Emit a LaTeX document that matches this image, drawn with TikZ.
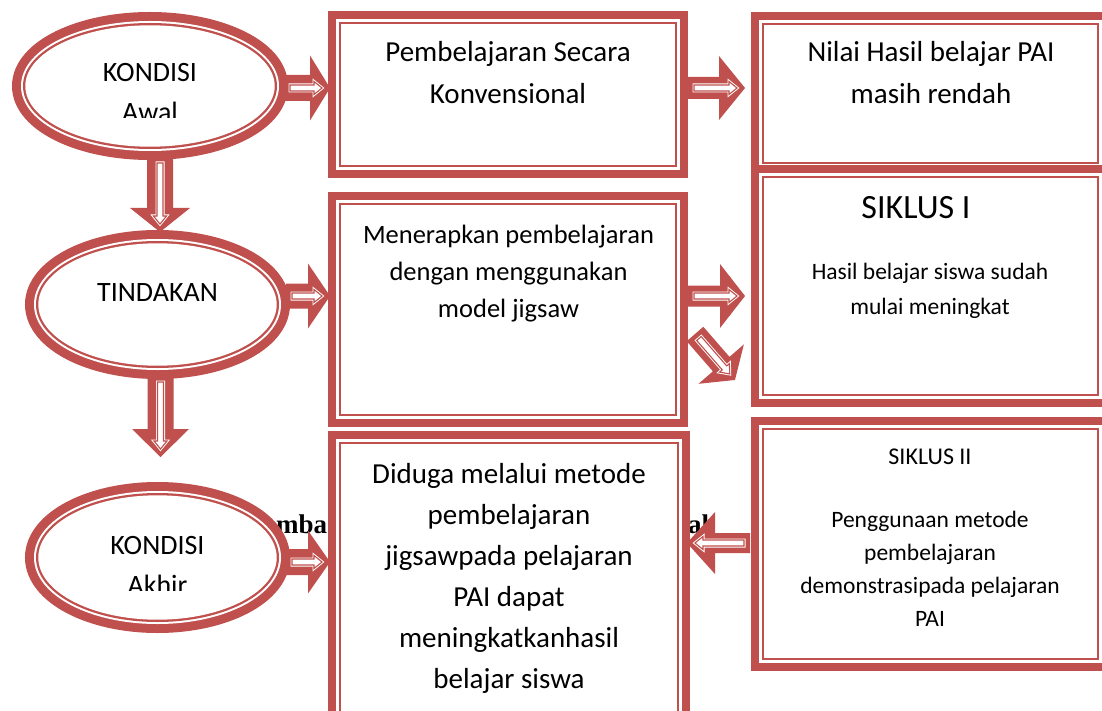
\documentclass[tikz,border=0pt]{standalone}
\usepackage{fontspec}
\setmainfont{Carlito}
\newfontfamily\capfont{Liberation Serif}
\usetikzlibrary{calc,positioning,shapes.geometric}
\definecolor{tred}{RGB}{192,80,77}

\tikzset{
  ttbox/.style={rectangle, preaction={draw=tred, line width=26.8pt},
    preaction={draw=white, line width=10pt},
    preaction={draw=tred, line width=4.8pt},
    fill=white, inner sep=0pt, outer sep=13.4pt},
  ttell/.style={ellipse, preaction={draw=tred, line width=26.6pt},
    preaction={draw=white, line width=8.6pt},
    preaction={draw=tred, line width=4.6pt},
    fill=white, inner sep=0pt, outer sep=13.3pt},
  arrcore/.style={preaction={draw=white, line width=3pt}, draw=tred,
    line width=1.1pt, fill=white},
  lbl/.style={align=center, inner sep=0pt, anchor=base},
}
\newcommand{\fsz}[2]{\fontsize{#1}{#2}\selectfont}
% block arrow: from, to, shaft half width, head half width, head length
\newcommand{\blockarr}[5]{%
  \path #1 coordinate (bas) #2 coordinate (bae);
  \pgfpointdiff{\pgfpointanchor{bas}{center}}{\pgfpointanchor{bae}{center}}%
  \pgfgetlastxy{\arrdx}{\arrdy}%
  \pgfmathsetmacro{\arrang}{atan2(\arrdy,\arrdx)}%
  \pgfmathsetmacro{\arrlen}{veclen(\arrdx,\arrdy)}%
  \begin{scope}[shift={(bas)}, rotate=\arrang, x=1pt, y=1pt]
    \fill[tred] (0,-#3) -- (\arrlen-#5,-#3) -- (\arrlen-#5,-#4) -- (\arrlen,0)
      -- (\arrlen-#5,#4) -- (\arrlen-#5,#3) -- (0,#3) -- cycle;
    \draw[arrcore] (6,-3) -- (\arrlen-16,-3) -- (\arrlen-16,-6.5) -- (\arrlen-8,0)
      -- (\arrlen-16,6.5) -- (\arrlen-16,3) -- (6,3) -- cycle;
  \end{scope}}

\begin{document}
\begin{tikzpicture}[x=1pt, y=-1pt]
  \useasboundingbox (0,0) rectangle (1102,711);
  \fill[white] (0,0) rectangle (1102,711);
  \clip (0,0) rectangle (1102,711);

  % caption fragments behind the shapes
  \node[font=\capfont\bfseries\fsz{27}{30}, inner sep=0pt, anchor=base west] (capa) at (276,533) {mba};
  \node[font=\capfont\bfseries\fsz{27}{30}, inner sep=0pt, anchor=base west] (capb) at (688,533) {al};

  % ellipses
  \node[ttell, minimum width=249.4, minimum height=121.4] (kawal) at (150,86) {};
  \node[ttell, minimum width=238.4, minimum height=122.4] (tindakan) at (157.5,304.5) {};
  \node[ttell, minimum width=238.4, minimum height=124.4] (kakhir) at (157.5,557.5) {};

  % boxes
  \node[ttbox, minimum width=333.2, minimum height=140.2] (konv) at (508,94.5) {};
  \node[ttbox, minimum width=333.2, minimum height=208.2] (jigsaw) at (508,309.5) {};
  \node[ttbox, minimum width=335.2, minimum height=282.2] (duga) at (509,585.5) {};
  \node[ttbox, minimum width=332.2, minimum height=136.2] (rendah) at (930.5,93.5) {};
  \node[ttbox, minimum width=332.2, minimum height=215.2] (siklusa) at (930.5,286) {};
  \node[ttbox, minimum width=332.2, minimum height=227.2] (siklusb) at (930.5,544) {};

  % texts (base = last line)
  \begin{scope}
    \clip (20,20) rectangle (280,118);
    \node[lbl, font=\fsz{28}{40}] (tawal) at (150,122) {KONDISI\\Awal};
  \end{scope}
  \node[lbl, font=\fsz{28}{40}] (ttind) at (157.5,301) {TINDAKAN};
  \begin{scope}
    \clip (30,490) rectangle (285,590);
    \node[lbl, font=\fsz{28}{40}] (takhir) at (157.5,594) {KONDISI\\Akhir};
  \end{scope}
  \node[lbl, font=\fsz{29}{42}] (tkonv) at (508,104) {Pembelajaran Secara\\Konvensional};
  \node[lbl, font=\fsz{29}{42}] (trendah) at (931,104) {Nilai Hasil belajar PAI\\masih rendah};
  \node[lbl, font=\fsz{26.5}{37}] (tjigsaw) at (508.5,317) {Menerapkan pembelajaran\\dengan menggunakan\\model jigsaw};
  \node[lbl, font=\fsz{34}{36}] (tsika) at (916,219) {SIKLUS I};
  \node[lbl, font=\fsz{23.5}{35}] (tsikab) at (930,314) {Hasil belajar siswa sudah\\mulai meningkat};
  \node[lbl, font=\fsz{29}{41}] (tduga) at (509,688) {Diduga melalui metode\\pembelajaran\\jigsawpada pelajaran\\PAI dapat\\meningkatkanhasil\\belajar siswa};
  \node[lbl, font=\fsz{24}{30}] (tsikb) at (930,464) {SIKLUS II};
  \node[lbl, font=\fsz{23.5}{33}] (tsikbb) at (930,626) {Penggunaan metode\\pembelajaran\\demonstrasipada pelajaran\\PAI};

  % arrows
  \blockarr{($(kawal.east)+(-4,2)$)}{($(konv.west |- kawal.east)+(2,2)$)}{13}{32.5}{20}
  \blockarr{($(tindakan.east)+(-4,-8.5)$)}{($(jigsaw.west |- tindakan.east)+(2,-8.5)$)}{12.5}{32.5}{22}
  \blockarr{($(kakhir.east)+(-4,4.5)$)}{($(duga.west |- kakhir.east)+(2,4.5)$)}{13}{31.5}{22}
  \blockarr{($(kawal.south)+(10,-3)$)}{($(tindakan.north)+(2.5,2)$)}{13}{30}{24}
  \blockarr{($(tindakan.south)+(3,-3)$)}{($(kakhir.north)+(3,-25)$)}{13}{28.5}{28}
  \blockarr{($(konv.east |- kawal.east)+(0,2)$)}{($(rendah.west |- kawal.east)+(-6,2)$)}{11}{32}{26}
  \blockarr{($(jigsaw.east)+(0,-13.5)$)}{($(siklusa.west)+(-6,10)$)}{10.5}{32}{25}
  \blockarr{($(jigsaw.east)+(7,24.5)$)}{($(siklusa.south west)+(-16,-27)$)}{11}{30}{21}
  \blockarr{($(siklusb.west)+(-1,-1)$)}{($(duga.east |- siklusb.west)+(-3,-1)$)}{10}{31}{28}
\end{tikzpicture}
\end{document}
